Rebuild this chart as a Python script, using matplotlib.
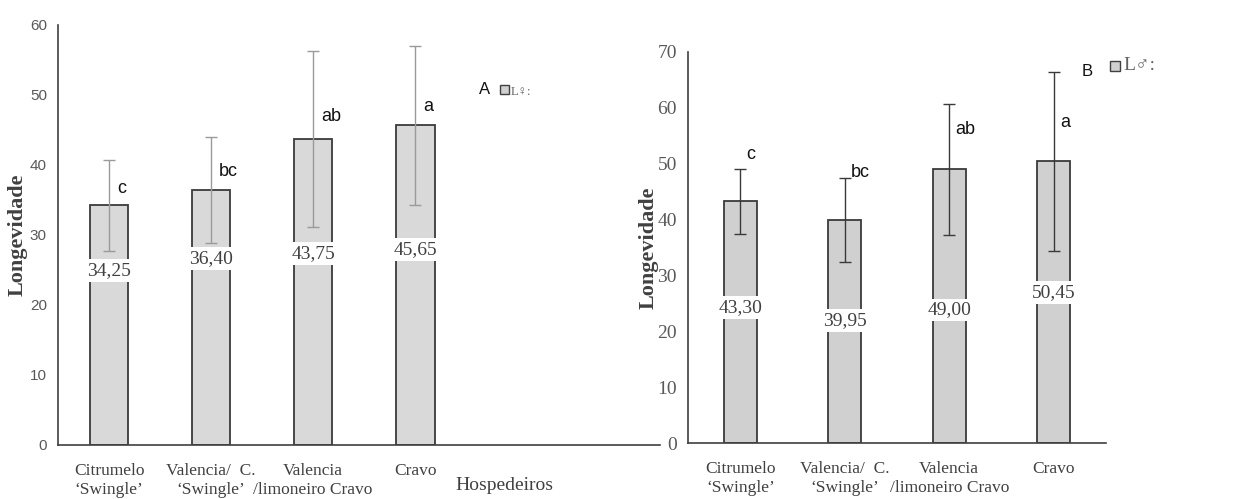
import matplotlib
matplotlib.use("Agg")
import matplotlib.pyplot as plt
from matplotlib.patches import Rectangle

# dados
hosts = ["Citrumelo\n\u2018Swingle\u2019", "Valencia/  C.\n\u2018Swingle\u2019",
         "Valencia\n/limoneiro Cravo", "Cravo"]
fem_mean = [34.25, 36.40, 43.75, 45.65]
fem_err = [6.5, 7.6, 12.6, 11.4]
fem_letters = ["c", "bc", "ab", "a"]
fem_labels = ["34,25", "36,40", "43,75", "45,65"]
fem_label_y = [24.9, 26.6, 27.4, 27.9]
fem_letter_y = [36.6, 39.0, 46.9, 48.3]

male_mean = [43.30, 39.95, 49.00, 50.45]
male_err = [5.8, 7.5, 11.7, 16.0]
male_letters = ["c", "bc", "ab", "a"]
male_labels = ["43,30", "39,95", "49,00", "50,45"]
male_label_y = [24.3, 22.0, 23.8, 27.0]
male_letter_y = [51.6, 48.5, 56.2, 57.3]

SERIF = ["Liberation Serif", "DejaVu Serif"]
NARROW = ["Liberation Sans Narrow", "Liberation Sans", "DejaVu Sans"]
SYM = ["Liberation Serif", "DejaVu Sans"]

fig = plt.figure(figsize=(12.4, 4.99), dpi=100)

ax1 = fig.add_axes([58 / 1240, 54 / 499, 602 / 1240, 420 / 499])
ax2 = fig.add_axes([688 / 1240, 56 / 499, 418 / 1240, 391 / 499])

x = list(range(len(hosts)))


def draw_panel(ax, means, errs, letters, labels, label_y, letter_y,
               width, fill, ecolor, dx):
    ax.bar(x, means, width=width, color=fill, edgecolor="#3a3a3a",
           linewidth=1.3, zorder=2)
    ax.errorbar(x, means, yerr=errs, fmt="none", ecolor=ecolor,
                elinewidth=1.0, capsize=4, capthick=1.0, zorder=3)
    for i in x:
        ax.text(i, label_y[i], labels[i], ha="center", va="center",
                fontsize=14, family=SERIF, color="#404040", zorder=4,
                bbox=dict(boxstyle="square,pad=0.15", fc="white", ec="none"))
        ax.text(i + dx, letter_y[i], letters[i], ha="left", va="center",
                fontsize=13, family=NARROW, color="#111111", zorder=4)
    for s in ["top", "right"]:
        ax.spines[s].set_visible(False)
    ax.spines["left"].set_color("#404040")
    ax.spines["bottom"].set_color("#404040")
    ax.spines["left"].set_linewidth(1.2)
    ax.spines["bottom"].set_linewidth(1.2)
    ax.set_xticks(x)
    ax.set_xticklabels(hosts, family=SERIF, fontsize=12.5, color="#404040",
                       linespacing=1.25)
    ax.tick_params(axis="both", length=0)
    ax.tick_params(axis="x", pad=13)
    ax.patch.set_alpha(0)


draw_panel(ax1, fem_mean, fem_err, fem_letters, fem_labels, fem_label_y,
           fem_letter_y, 0.38, "#d9d9d9", "#9a9a9a", 0.08)
ax1.set_ylim(0, 60)
ax1.set_yticks(range(0, 61, 10))
ax1.set_xlim(-0.5, 5.4)
ax1.tick_params(axis="y", labelsize=11, labelcolor="#595959", pad=8)
for t in ax1.get_yticklabels():
    t.set_family(NARROW)
ax1.set_ylabel("Longevidade", family=SERIF, fontsize=16, fontweight="bold",
               color="#404040", labelpad=1.5)
fig.text(455 / 1240, 1 - 485 / 499, "Hospedeiros", fontsize=14,
         family=SERIF, color="#404040", va="center", ha="left")

draw_panel(ax2, male_mean, male_err, male_letters, male_labels, male_label_y,
           male_letter_y, 0.32, "#d0d0d0", "#3a3a3a", 0.06)
ax2.set_ylim(0, 70)
ax2.set_yticks(range(0, 71, 10))
ax2.set_xlim(-0.5, 3.5)
ax2.tick_params(axis="y", labelsize=14, labelcolor="#595959", pad=8)
for t in ax2.get_yticklabels():
    t.set_family(SERIF)
ax2.set_ylabel("Longevidade", family=SERIF, fontsize=16, fontweight="bold",
               color="#404040", labelpad=-1)

# legendas A / B
fig.text(479 / 1240, 1 - 90 / 499, "A", fontsize=12, family=NARROW,
         color="#111111", ha="left", va="center")
fig.patches.append(Rectangle((500 / 1240, 1 - 94 / 499), 9 / 1240, 9 / 499,
                             transform=fig.transFigure, fc="#d0d0d0",
                             ec="#404040", lw=1))
fig.text(511 / 1240, 1 - 92 / 499, "L\u2640:", fontsize=9, family=SYM,
         color="#606060", ha="left", va="center")

fig.text(1082 / 1240, 1 - 72 / 499, "B", fontsize=12, family=NARROW,
         color="#111111", ha="left", va="center")
fig.patches.append(Rectangle((1110 / 1240, 1 - 71 / 499), 10 / 1240, 10 / 499,
                             transform=fig.transFigure, fc="#d0d0d0",
                             ec="#404040", lw=1))
fig.text(1123 / 1240, 1 - 66 / 499, "L\u2642:", fontsize=14, family=SYM,
         color="#606060", ha="left", va="center")

fig.savefig("out.png", dpi=100)
